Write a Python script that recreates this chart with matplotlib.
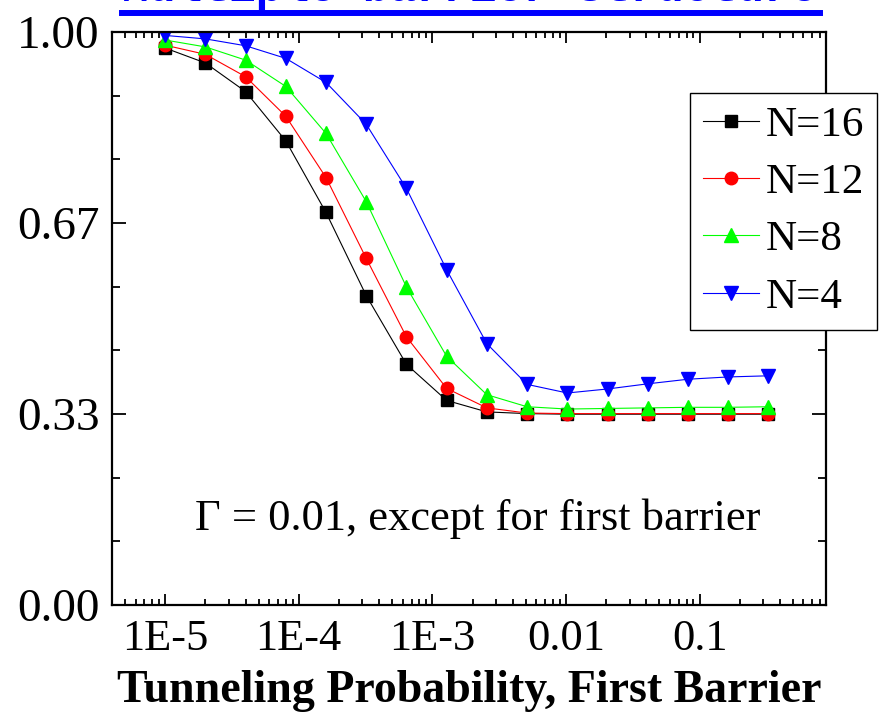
import matplotlib
matplotlib.use('Agg')
import matplotlib.pyplot as plt
from matplotlib.lines import Line2D
from matplotlib.ticker import FixedLocator, LogLocator, NullFormatter

plt.rcParams['font.family'] = ['Liberation Serif', 'DejaVu Serif']

# tunneling probability of the first barrier
prob = [1e-5, 2e-5, 4e-5, 8e-5, 1.6e-4, 3.2e-4, 6.4e-4, 1.28e-3,
        2.56e-3, 5.12e-3, 1.024e-2, 2.048e-2, 4.096e-2, 8.192e-2, 0.16384, 0.32768]

n16 = [0.972, 0.946, 0.896, 0.810, 0.685, 0.540, 0.420, 0.357,
       0.337, 0.334, 0.333, 0.333, 0.333, 0.333, 0.333, 0.333]
n12 = [0.977, 0.961, 0.922, 0.853, 0.746, 0.605, 0.468, 0.378,
       0.344, 0.335, 0.334, 0.334, 0.334, 0.334, 0.334, 0.334]
n8 = [0.986, 0.974, 0.951, 0.905, 0.823, 0.704, 0.555, 0.434,
      0.367, 0.346, 0.342, 0.343, 0.344, 0.345, 0.345, 0.346]
n4 = [0.994, 0.988, 0.976, 0.954, 0.912, 0.839, 0.727, 0.585,
      0.456, 0.385, 0.370, 0.377, 0.386, 0.394, 0.398, 0.400]

y_ticks = [0.0, 1 / 3, 2 / 3, 1.0]
y_labels = ['0.00', '0.33', '0.67', '1.00']
x_ticks = [1e-5, 1e-4, 1e-3, 1e-2, 1e-1]
x_labels = ['1E-5', '1E-4', '1E-3', '0.01', '0.1']

W, H = 890, 714
fig = plt.figure(figsize=(8.9, 7.14), dpi=100)
ax = fig.add_axes([112 / W, 1 - 605 / H, (826 - 112) / W, (605 - 32) / H])

ax.plot(prob, n16, color='black', lw=0.8, marker='s', ms=8, label='N=16')
ax.plot(prob, n12, color='red', lw=0.8, marker='o', ms=9, label='N=12')
ax.plot(prob, n8, color='#00ff00', lw=0.8, marker='^', ms=10, label='N=8')
ax.plot(prob, n4, color='blue', lw=0.8, marker='v', ms=10, label='N=4')

ax.set_xscale('log')
ax.set_xlim(4e-6, 0.885)
ax.set_ylim(0, 1)

ax.xaxis.set_major_locator(FixedLocator(x_ticks))
ax.set_xticklabels(x_labels)
ax.xaxis.set_minor_locator(LogLocator(base=10, subs=range(2, 10), numticks=20))
ax.xaxis.set_minor_formatter(NullFormatter())
ax.yaxis.set_major_locator(FixedLocator(y_ticks))
ax.set_yticklabels(y_labels)
ax.yaxis.set_minor_locator(FixedLocator([1 / 9, 2 / 9, 4 / 9, 5 / 9, 7 / 9, 8 / 9]))

ax.tick_params(axis='both', which='both', direction='in', top=True, right=True, width=1.3)
ax.tick_params(axis='y', which='major', length=10, labelsize=34, pad=9)
ax.tick_params(axis='y', which='minor', length=6)
ax.tick_params(axis='x', which='major', length=8, labelsize=32, pad=10)
ax.tick_params(axis='x', which='minor', length=4)
for s in ax.spines.values():
    s.set_linewidth(1.6)

ax.set_xlabel('Tunneling Probability, First Barrier', fontsize=33,
              fontweight='bold', labelpad=8)

fig.text(195 / W, 1 - 530 / H, '\u0393 = 0.01, except for first barrier',
         fontsize=32, ha='left', va='baseline')

leg = ax.legend(loc='upper left', bbox_to_anchor=(690 / W, 1 - 93 / H),
                bbox_transform=fig.transFigure, fontsize=31, frameon=True,
                fancybox=False, framealpha=1, edgecolor='black',
                handlelength=1.3, handletextpad=0.15, labelspacing=0.42,
                borderpad=0.3, borderaxespad=0, numpoints=1)
leg.get_frame().set_linewidth(1.0)

# title, mostly cut off at the top edge
fig.text(122 / W, 1 - 1 / H, 'Multiple barrier Structure', color='blue',
         fontsize=32, fontweight='bold', family='Liberation Mono',
         ha='left', va='baseline')
fig.add_artist(Line2D([122 / W, 820 / W], [1 - 13 / H, 1 - 13 / H],
                      color='blue', lw=4.3, transform=fig.transFigure))

fig.savefig('out.png', dpi=100)
